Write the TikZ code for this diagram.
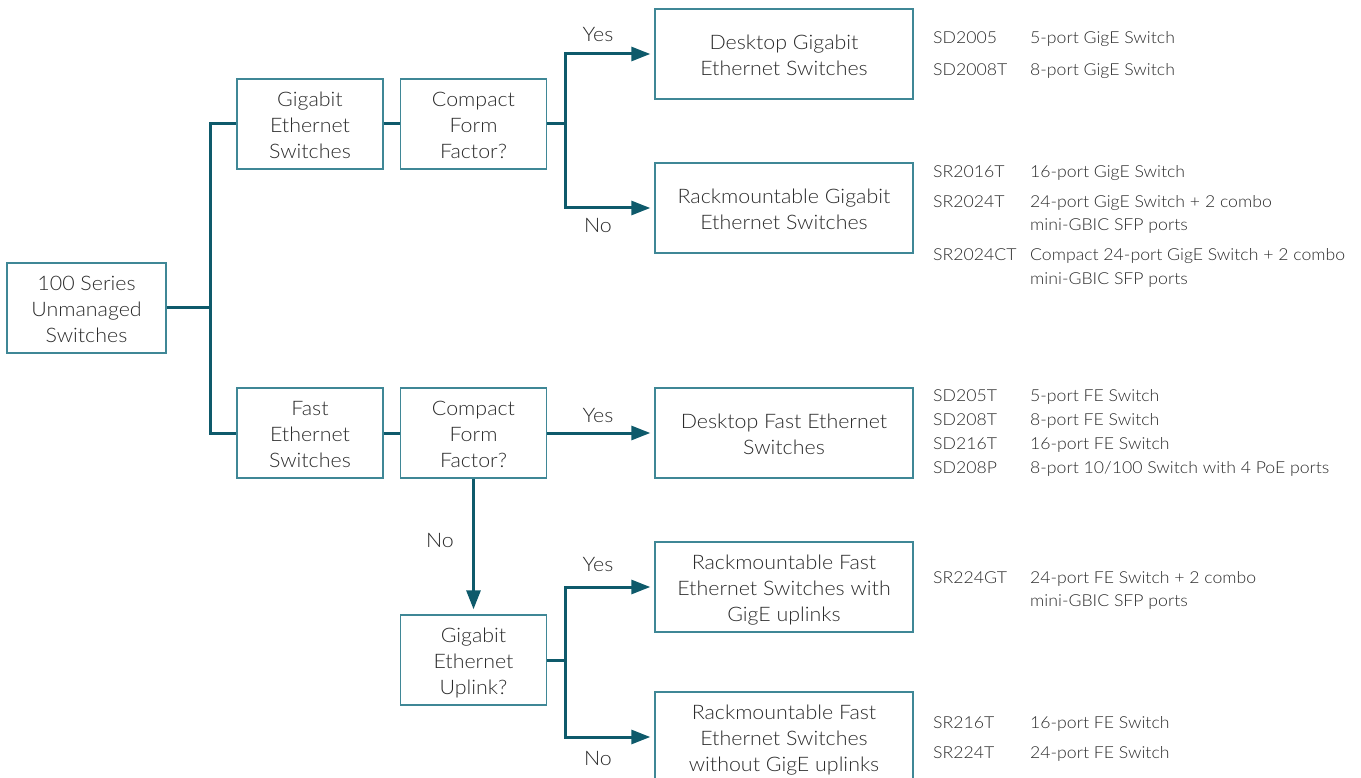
\documentclass[tikz,border=0pt]{standalone}
\usepackage{fontspec}
\IfFontExistsTF{Lato Light}{\setmainfont{Lato Light}[FakeStretch=1.07]}{\setmainfont{Lato}[FakeStretch=1.07]}
\usetikzlibrary{arrows.meta}
\definecolor{linec}{HTML}{0E5A6B}
\definecolor{boxc}{HTML}{3F8796}
\definecolor{txt}{HTML}{2A2A2A}
\newcommand\bt[1]{\raisebox{-3.5pt}[\height][\depth]{\begin{tabular}{@{}c@{}}#1\end{tabular}}}
\begin{document}
\begin{tikzpicture}[x=1pt,y=-1pt,
  box/.style={draw=boxc,line width=1.4pt,inner sep=0pt,text=txt,
    font=\fontsize{20}{26}\selectfont,minimum height=90pt},
  sbox/.style={box,minimum width=146pt},
  wbox/.style={box,minimum width=258pt},
  conn/.style={draw=linec,line width=3pt},
  arr/.style={conn,-{Triangle[length=19pt,width=14pt]},shorten >=4pt},
  lbl/.style={text=txt,font=\fontsize{20}{24}\selectfont,inner sep=0pt},
  mdl/.style={text=txt,font=\fontsize{16.5}{23}\selectfont,inner sep=0pt,anchor=base west}
]
\useasboundingbox (0,0) rectangle (1361,778);
% boxes
\node[box,minimum width=159pt] (root) at (86.5,308) {\bt{100 Series\\Unmanaged\\Switches}};
\node[sbox] (gig) at (310,124) {\bt{Gigabit\\Ethernet\\Switches}};
\node[sbox] (comp1) at (473.5,124) {\bt{Compact\\Form\\Factor?}};
\node[wbox] (deskgig) at (784,54) {\bt{Desktop Gigabit\\Ethernet Switches}};
\node[wbox] (rackgig) at (784,208) {\bt{Rackmountable Gigabit\\Ethernet Switches}};
\node[sbox] (fast) at (310,433) {\bt{Fast\\Ethernet\\Switches}};
\node[sbox] (comp2) at (473.5,433) {\bt{Compact\\Form\\Factor?}};
\node[wbox] (deskfast) at (784,433) {\bt{Desktop Fast Ethernet\\Switches}};
\node[sbox] (uplink) at (473.5,660) {\bt{Gigabit\\Ethernet\\Uplink?}};
\node[wbox] (rackw) at (784,587) {\bt{Rackmountable Fast\\Ethernet Switches with\\GigE uplinks}};
\node[wbox] (rackwo) at (784,737) {\bt{Rackmountable Fast\\Ethernet Switches\\without GigE uplinks}};
% connectors
\coordinate (j) at (210,308);
\coordinate (b1) at (565,124);
\coordinate (b2) at (565,660);
\draw[conn,line join=miter] (root.east) -- (j);
\draw[conn,line join=miter] (gig.west) -| (j) |- (fast.west);
\draw[conn] (gig.east) -- (comp1.west);
\draw[conn] (fast.east) -- (comp2.west);
\draw[conn] (comp1.east) -- (b1);
\draw[arr] (b1) |- (deskgig.west);
\draw[arr] (b1) |- (rackgig.west);
\draw[arr] (comp2.east) -- (deskfast.west);
\draw[arr,shorten >=5pt] (comp2.south) -- (uplink.north);
\draw[conn] (uplink.east) -- (b2);
\draw[arr] (b2) |- (rackw.west);
\draw[arr] (b2) |- (rackwo.west);
% branch labels
\node[lbl] (y1) at (598,35) {Yes};
\node[lbl] (n1) at (598,225) {No};
\node[lbl] (y2) at (598,416) {Yes};
\node[lbl] (n2) at (440,540) {No};
\node[lbl] (y3) at (598,565) {Yes};
\node[lbl] (n3) at (598,758) {No};
% model lists
\node[mdl] (m1) at (933,44) {SD2005};
\node[mdl] (d1) at (1030,44) {5-port GigE Switch};
\node[mdl] (m2) at (933,76) {SD2008T};
\node[mdl] (d2) at (1030,76) {8-port GigE Switch};
\node[mdl] (m3) at (933,178) {SR2016T};
\node[mdl] (d3) at (1030,178) {16-port GigE Switch};
\node[mdl] (m4) at (933,208) {SR2024T};
\node[mdl] (d4) at (1030,208) {24-port GigE Switch + 2 combo};
\node[mdl] (d4b) at (1030,231) {mini-GBIC SFP ports};
\node[mdl] (m5) at (933,261) {SR2024CT};
\node[mdl] (d5) at (1030,261) {Compact 24-port GigE Switch + 2 combo};
\node[mdl] (d5b) at (1030,284) {mini-GBIC SFP ports};
\node[mdl] (m6) at (933,401) {SD205T};
\node[mdl] (d6) at (1030,401) {5-port FE Switch};
\node[mdl] (m7) at (933,425) {SD208T};
\node[mdl] (d7) at (1030,425) {8-port FE Switch};
\node[mdl] (m8) at (933,449) {SD216T};
\node[mdl] (d8) at (1030,449) {16-port FE Switch};
\node[mdl] (m9) at (933,473) {SD208P};
\node[mdl] (d9) at (1030,473) {8-port 10/100 Switch with 4 PoE ports};
\node[mdl] (m10) at (933,583) {SR224GT};
\node[mdl] (d10) at (1030,583) {24-port FE Switch + 2 combo};
\node[mdl] (d10b) at (1030,606) {mini-GBIC SFP ports};
\node[mdl] (m11) at (933,728) {SR216T};
\node[mdl] (d11) at (1030,728) {16-port FE Switch};
\node[mdl] (m12) at (933,758) {SR224T};
\node[mdl] (d12) at (1030,758) {24-port FE Switch};
\end{tikzpicture}
\end{document}
